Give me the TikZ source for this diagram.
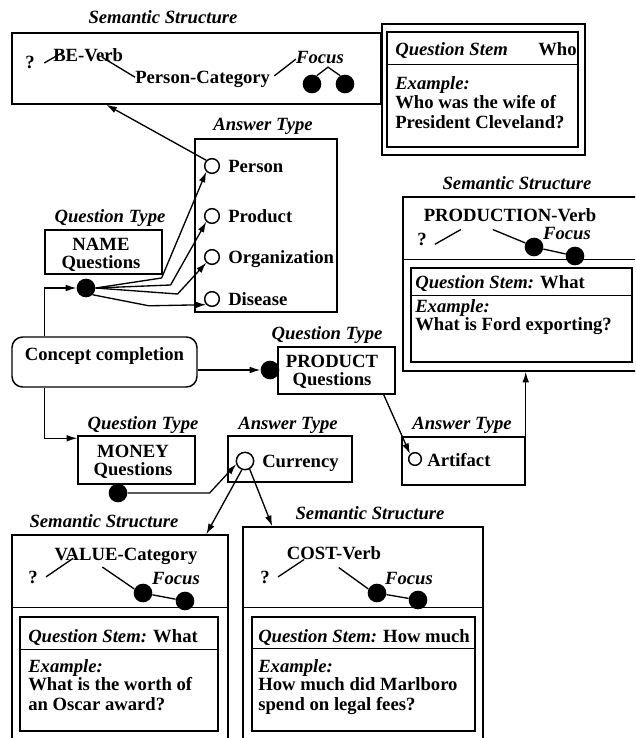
\documentclass[tikz,border=0pt]{standalone}
\usepackage{fontspec}
\setmainfont{Liberation Serif}
\usetikzlibrary{arrows.meta,fit,calc}

\begin{document}
\begin{tikzpicture}[x=0.75pt,y=-0.75pt,
  kasten/.style={draw,line width=1.1pt,inner sep=0pt},
  titel/.style={font=\fontsize{14}{15}\selectfont\bfseries\itshape,inner sep=0pt,anchor=base},
  wort/.style={font=\fontsize{14}{15}\selectfont\bfseries,inner sep=0pt,anchor=base},
  links/.style={anchor=base west},
  ring/.style={circle,draw,line width=1.1pt,minimum size=11pt,inner sep=0pt},
  punkt/.style={circle,fill,minimum size=14pt,inner sep=0pt},
  pfeil/.style={line width=1pt,-{Latex[length=8pt,width=5pt]}},
  strich/.style={line width=1pt}]
  \useasboundingbox (0,0) rectangle (635,738);
  \clip (0,0) rectangle (635,738);

  % NAME: Semantic Structure oben links
  \node[kasten,fit={(12,33) (381,104)}] (sem1) {};
  \node[titel] (tsem1) at (163,24) {Semantic Structure};
  \node[wort] (q1) at (30,69) {?};
  \node[wort,links] (be) at (53,62) {BE-Verb};
  \node[wort,links] (pc) at (135,84) {Person-Category};
  \node[titel] (fo1) at (320,64) {Focus};
  \node[punkt] (f1a) at (312,84) {};
  \node[punkt] (f1b) at (345,84) {};
  \draw[strich] ([xshift=7pt]q1.east) -- ([xshift=8pt,yshift=8pt]be.south west);
  \draw[strich] ([xshift=-16pt,yshift=4pt]be.south east) -- ([yshift=2pt]pc.west);
  \draw[strich] ([xshift=3pt,yshift=3pt]pc.east) -- ([yshift=4pt]fo1.south west);
  \draw[strich] (f1a.60) -- ([xshift=6pt,yshift=-2pt]fo1.south) -- (f1b.120);

  % Question Stem oben rechts, doppelt umrandet
  \node[kasten,fit={(382,24) (585,155)}] (stamm1) {};
  \node[kasten,fit={(387,32) (578,147)}] (stamm1i) {};
  \draw[strich] ($(stamm1i.north west)+(0,33)$) -- ($(stamm1i.north east)+(0,33)$);
  \node[titel,links] (qs1) at (395,56) {Question Stem};
  \node[wort,links] (qw1) at (538,56) {Who};
  \node[titel,links] (ex1) at (395,90) {Example:};
  \node[wort,links] (ex1a) at (395,109) {Who was the wife of};
  \node[wort,links] (ex1b) at (395,128) {President Cleveland?};

  % Answer Type zu NAME
  \node[titel] (tat1) at (263,131) {Answer Type};
  \node[kasten,fit={(195,139) (337,312)}] (at1) {};
  \foreach \kreis/\eintrag/\y in {cPer/Person/172, cPro/Product/222,
      cOrg/Organization/263, cDis/Disease/305}{
    \node[ring] (\kreis) at (212,\y-6) {};
    \node[wort,links] (t\kreis) at (228,\y) {\eintrag};
  }
  \draw[pfeil] (cPer.north west) -- ($(sem1.south west)+(95,0)$);

  % Question Type NAME
  \node[titel] (tqt1) at (110,222) {Question Type};
  \node[kasten,fit={(45,230) (162,274)}] (qt1) {};
  \node[wort] (nm1) at (101,250) {NAME};
  \node[wort] (nm2) at (101,268) {Questions};
  \node[punkt] (d1) at (86,288) {};
  \draw[pfeil] (d1.east) -- ++(66,-10) -- (cPer.south west);
  \draw[pfeil] (d1.east) -- ++(75,-3) -- (cPro.south west);
  \draw[pfeil] (d1.east) -- ++(82,6) -- (cOrg.south west);
  \draw[pfeil] (d1.south east) -- ++(56,11) -- (cDis.south west);

  % Concept completion
  \node[kasten,rounded corners=8pt,fit={(12,337) (197,387)},
    font=\fontsize{14}{15}\selectfont\bfseries] (konzept) {Concept completion};
  \draw[pfeil] ($(konzept.north west)+(33,0)$) |- (d1);

  % Question Type PRODUCT
  \node[titel] (tqt2) at (327,339) {Question Type};
  \node[kasten,fit={(278,347) (395,394)}] (qt2) {};
  \node[wort] (pr1) at (332,367) {PRODUCT};
  \node[wort] (pr2) at (332,385) {Questions};
  \node[punkt] (d2) at (270,370) {};
  \draw[pfeil] (konzept.east |- d2) -- (d2);

  % Question Type MONEY
  \node[titel] (tqt3) at (143,429) {Question Type};
  \node[kasten,fit={(78,436) (195,484)}] (qt3) {};
  \node[wort] (mo1) at (133,457) {MONEY};
  \node[wort] (mo2) at (133,475) {Questions};
  \node[punkt] (d3) at (118,493) {};
  \draw[pfeil] ($(konzept.south west)+(33,0)$) |- ($(qt3.north west)+(0,3)$);

  % Answer Type Currency
  \node[titel] (tat2) at (288,429) {Answer Type};
  \node[kasten,fit={(228,436) (352,482)}] (at2) {};
  \node[ring,minimum size=13pt] (cCur) at (245,461) {};
  \node[wort,links] (tcCur) at (262,467) {Currency};
  \draw[pfeil] (d3.east) -- ++(82,0) -- (cCur.200);

  % Answer Type Artifact
  \node[titel] (tat3) at (462,429) {Answer Type};
  \node[kasten,fit={(402,437) (525,485)}] (at3) {};
  \node[ring,minimum size=9.5pt] (cArt) at (415,459) {};
  \node[wort,links] (tcArt) at (427,466) {Artifact};
  \draw[pfeil] ($(qt2.south east)+(-12,0)$) -- (cArt.north west);

  % PRODUCTION: Semantic Structure rechts
  \node[titel] (tsem2) at (517,190) {Semantic Structure};
  \node[kasten,fit={(403,197) (640,371)}] (sem2) {};
  \draw[strich] ($(sem2.north west)+(0,63)$) -- ($(sem2.north east)+(0,63)$);
  \node[wort] (pv) at (510,221) {PRODUCTION-Verb};
  \node[wort] (q2) at (422,245) {?};
  \node[titel] (fo2) at (567,239) {Focus};
  \node[punkt] (f2a) at (534,247) {};
  \node[punkt] (f2b) at (575,256) {};
  \draw[strich] ([xshift=6pt,yshift=-4pt]q2.east) -- ([xshift=28pt,yshift=-6pt]pv.south west);
  \draw[strich] ([xshift=52pt,yshift=-6pt]pv.south west) -- (f2a.155);
  \draw[strich] (f2a) -- (f2b);
  \node[kasten,fit={(411,268) (632,362)}] (stamm2) {};
  \draw[strich] ($(stamm2.north west)+(0,28)$) -- ($(stamm2.north east)+(0,28)$);
  \node[wort,links] (qs2) at (415,288) {{\itshape Question Stem:} What};
  \node[titel,links] (ex2) at (415,312) {Example:};
  \node[wort,links] (ex2a) at (415,330) {What is Ford exporting?};
  \draw[pfeil] (at3.north east) -- (at3.north east |- sem2.south);

  % VALUE: Semantic Structure unten links
  \node[titel] (tsem3) at (104,527) {Semantic Structure};
  \node[kasten,fit={(12,535) (228,745)}] (sem3) {};
  \draw[strich] ($(sem3.north west)+(0,73)$) -- ($(sem3.north east)+(0,73)$);
  \node[wort] (vc) at (126,560) {VALUE-Category};
  \node[wort] (q3) at (33,583) {?};
  \node[titel] (fo3) at (176,584) {Focus};
  \node[punkt] (f3a) at (143,593) {};
  \node[punkt] (f3b) at (185,601) {};
  \draw[strich] ([xshift=6pt]q3.east) -- ([xshift=14pt,yshift=4.5pt]vc.south west);
  \draw[strich] ([xshift=36pt,yshift=-2pt]vc.south west) -- (f3a.155);
  \draw[strich] (f3a) -- (f3b);
  \node[kasten,fit={(20,617) (218,731)}] (stamm3) {};
  \draw[strich] ($(stamm3.north west)+(0,33)$) -- ($(stamm3.north east)+(0,33)$);
  \node[wort,links] (qs3) at (28,642) {{\itshape Question Stem:} What};
  \node[titel,links] (ex3) at (28,672) {Example:};
  \node[wort,links] (ex3a) at (28,690) {What is the worth of};
  \node[wort,links] (ex3b) at (28,710) {an Oscar award?};
  \draw[pfeil] (cCur.250) -- ($(sem3.north west)+(195,0)$);

  % COST: Semantic Structure unten Mitte
  \node[titel] (tsem4) at (370,519) {Semantic Structure};
  \node[kasten,fit={(243,527) (483,745)}] (sem4) {};
  \draw[strich] ($(sem4.north west)+(0,81)$) -- ($(sem4.north east)+(0,81)$);
  \node[wort] (cv) at (334,559) {COST-Verb};
  \node[wort] (q4) at (265,583) {?};
  \node[titel] (fo4) at (409,584) {Focus};
  \node[punkt] (f4a) at (377,593) {};
  \node[punkt] (f4b) at (418,600) {};
  \draw[strich] ([xshift=6pt]q4.east) -- ([xshift=13pt]cv.south west);
  \draw[strich] ([xshift=39pt,yshift=-6pt]cv.south west) -- (f4a.155);
  \draw[strich] (f4a) -- (f4b);
  \node[kasten,fit={(252,617) (475,731)}] (stamm4) {};
  \draw[strich] ($(stamm4.north west)+(0,32)$) -- ($(stamm4.north east)+(0,32)$);
  \node[wort,links] (qs4) at (258,642) {{\itshape Question Stem:} How much};
  \node[titel,links] (ex4) at (258,672) {Example:};
  \node[wort,links] (ex4a) at (258,690) {How much did Marlboro};
  \node[wort,links] (ex4b) at (258,710) {spend on legal fees?};
  \draw[pfeil] (cCur.300) -- ($(sem4.north west)+(30,0)$);
\end{tikzpicture}
\end{document}
